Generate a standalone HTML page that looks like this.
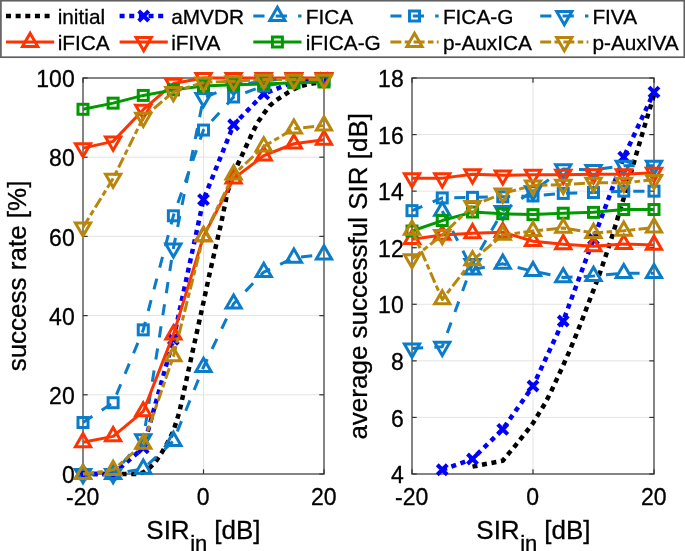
<!DOCTYPE html><html><head><meta charset="utf-8"><style>html,body{margin:0;padding:0;background:#fff;}svg{display:block;will-change:transform;}text{font-family:"Liberation Sans",sans-serif;fill:#000;stroke:#000;stroke-width:0.3px;}</style></head><body>
<svg width="685" height="551" viewBox="0 0 685 551">
<rect width="685" height="551" fill="#fff"/>
<line x1="83" x2="324" y1="474.0" y2="474.0" stroke="#e3e3e3" stroke-width="1"/>
<line x1="83" x2="324" y1="394.8" y2="394.8" stroke="#e3e3e3" stroke-width="1"/>
<line x1="83" x2="324" y1="315.6" y2="315.6" stroke="#e3e3e3" stroke-width="1"/>
<line x1="83" x2="324" y1="236.4" y2="236.4" stroke="#e3e3e3" stroke-width="1"/>
<line x1="83" x2="324" y1="157.2" y2="157.2" stroke="#e3e3e3" stroke-width="1"/>
<line x1="83" x2="324" y1="78.0" y2="78.0" stroke="#e3e3e3" stroke-width="1"/>
<line x1="83.0" x2="83.0" y1="78" y2="474" stroke="#e3e3e3" stroke-width="1"/>
<line x1="203.5" x2="203.5" y1="78" y2="474" stroke="#e3e3e3" stroke-width="1"/>
<line x1="324.0" x2="324.0" y1="78" y2="474" stroke="#e3e3e3" stroke-width="1"/>

<rect x="83" y="78" width="241" height="396" fill="none" stroke="#606060" stroke-width="1.5"/>
<line x1="83" x2="87.7" y1="474.0" y2="474.0" stroke="#333333" stroke-width="1.2"/><line x1="324" x2="319.3" y1="474.0" y2="474.0" stroke="#333333" stroke-width="1.2"/>
<line x1="83" x2="87.7" y1="394.8" y2="394.8" stroke="#333333" stroke-width="1.2"/><line x1="324" x2="319.3" y1="394.8" y2="394.8" stroke="#333333" stroke-width="1.2"/>
<line x1="83" x2="87.7" y1="315.6" y2="315.6" stroke="#333333" stroke-width="1.2"/><line x1="324" x2="319.3" y1="315.6" y2="315.6" stroke="#333333" stroke-width="1.2"/>
<line x1="83" x2="87.7" y1="236.4" y2="236.4" stroke="#333333" stroke-width="1.2"/><line x1="324" x2="319.3" y1="236.4" y2="236.4" stroke="#333333" stroke-width="1.2"/>
<line x1="83" x2="87.7" y1="157.2" y2="157.2" stroke="#333333" stroke-width="1.2"/><line x1="324" x2="319.3" y1="157.2" y2="157.2" stroke="#333333" stroke-width="1.2"/>
<line x1="83" x2="87.7" y1="78.0" y2="78.0" stroke="#333333" stroke-width="1.2"/><line x1="324" x2="319.3" y1="78.0" y2="78.0" stroke="#333333" stroke-width="1.2"/>
<line x1="83.0" x2="83.0" y1="474" y2="469.3" stroke="#333333" stroke-width="1.2"/><line x1="83.0" x2="83.0" y1="78" y2="82.7" stroke="#333333" stroke-width="1.2"/>
<line x1="203.5" x2="203.5" y1="474" y2="469.3" stroke="#333333" stroke-width="1.2"/><line x1="203.5" x2="203.5" y1="78" y2="82.7" stroke="#333333" stroke-width="1.2"/>
<line x1="324.0" x2="324.0" y1="474" y2="469.3" stroke="#333333" stroke-width="1.2"/><line x1="324.0" x2="324.0" y1="78" y2="82.7" stroke="#333333" stroke-width="1.2"/>
<text x="74.7" y="483.2" text-anchor="end" font-size="23">0</text>
<text x="74.7" y="404.0" text-anchor="end" font-size="23">20</text>
<text x="74.7" y="324.8" text-anchor="end" font-size="23">40</text>
<text x="74.7" y="245.6" text-anchor="end" font-size="23">60</text>
<text x="74.7" y="166.39999999999998" text-anchor="end" font-size="23">80</text>
<text x="74.7" y="87.2" text-anchor="end" font-size="23">100</text>
<text x="82.7" y="504.5" text-anchor="middle" font-size="23">-20</text>
<text x="203.2" y="504.5" text-anchor="middle" font-size="23">0</text>
<text x="323.7" y="504.5" text-anchor="middle" font-size="23">20</text>

<path d="M83.00,474.00L113.12,474.00L137.22,474.00L143.25,472.42L149.28,468.06L155.30,462.12L161.32,453.41L167.35,443.11L173.38,431.23L179.40,411.83L185.43,384.50L191.45,356.78L197.47,329.46L203.50,302.14L209.53,274.02L215.55,247.49L221.57,221.35L227.60,191.65L233.62,173.04L239.65,160.37L245.68,147.30L251.70,134.23L257.73,122.35L263.75,113.64L269.77,105.72L275.80,100.57L281.82,96.61L287.85,92.65L293.88,89.09L299.90,86.32L305.93,84.73L311.95,83.54L317.98,82.75L324.00,81.96" fill="none" stroke="#000000" stroke-width="4.5" stroke-dasharray="5 4.65" stroke-linejoin="round"/>


<path d="M83.00,474.00L113.12,474.00L143.25,447.86L173.38,339.36L203.50,199.57L233.62,124.73L263.75,93.84L293.88,81.96L324.00,78.00" fill="none" stroke="#0000ff" stroke-width="4.5" stroke-dasharray="5 4.65" stroke-linejoin="round"/>
<path d="M78.00,469.00L88.00,479.00M78.00,479.00L88.00,469.00" stroke="#0000ff" stroke-width="4.0"/><path d="M108.12,469.00L118.12,479.00M108.12,479.00L118.12,469.00" stroke="#0000ff" stroke-width="4.0"/><path d="M138.25,442.86L148.25,452.86M138.25,452.86L148.25,442.86" stroke="#0000ff" stroke-width="4.0"/><path d="M168.38,334.36L178.38,344.36M168.38,344.36L178.38,334.36" stroke="#0000ff" stroke-width="4.0"/><path d="M198.50,194.57L208.50,204.57M198.50,204.57L208.50,194.57" stroke="#0000ff" stroke-width="4.0"/><path d="M228.62,119.73L238.62,129.73M228.62,129.73L238.62,119.73" stroke="#0000ff" stroke-width="4.0"/><path d="M258.75,88.84L268.75,98.84M258.75,98.84L268.75,88.84" stroke="#0000ff" stroke-width="4.0"/><path d="M288.88,76.96L298.88,86.96M288.88,86.96L298.88,76.96" stroke="#0000ff" stroke-width="4.0"/><path d="M319.00,73.00L329.00,83.00M319.00,83.00L329.00,73.00" stroke="#0000ff" stroke-width="4.0"/>

<path d="M83.00,474.00L113.12,474.00L143.25,468.85L173.38,441.13L203.50,367.08L233.62,303.72L263.75,272.04L293.88,257.78L324.00,254.62" fill="none" stroke="#0a7cc9" stroke-width="3.0" stroke-dasharray="11.2 11.2" stroke-linejoin="round"/>
<path d="M83.00,465.22L90.60,478.39L75.40,478.39Z" fill="none" stroke="#0a7cc9" stroke-width="3.0"/><path d="M113.12,465.22L120.72,478.39L105.53,478.39Z" fill="none" stroke="#0a7cc9" stroke-width="3.0"/><path d="M143.25,460.08L150.85,473.24L135.65,473.24Z" fill="none" stroke="#0a7cc9" stroke-width="3.0"/><path d="M173.38,432.36L180.97,445.52L165.78,445.52Z" fill="none" stroke="#0a7cc9" stroke-width="3.0"/><path d="M203.50,358.30L211.10,371.47L195.90,371.47Z" fill="none" stroke="#0a7cc9" stroke-width="3.0"/><path d="M233.62,294.94L241.22,308.11L226.03,308.11Z" fill="none" stroke="#0a7cc9" stroke-width="3.0"/><path d="M263.75,263.26L271.35,276.43L256.15,276.43Z" fill="none" stroke="#0a7cc9" stroke-width="3.0"/><path d="M293.88,249.01L301.48,262.17L286.27,262.17Z" fill="none" stroke="#0a7cc9" stroke-width="3.0"/><path d="M324.00,245.84L331.60,259.00L316.40,259.00Z" fill="none" stroke="#0a7cc9" stroke-width="3.0"/>

<path d="M83.00,422.52L113.12,402.72L143.25,329.86L173.38,215.81L203.50,130.07L233.62,97.01L263.75,85.92L293.88,81.96L324.00,79.98" fill="none" stroke="#0a7cc9" stroke-width="3.0" stroke-dasharray="11.2 11.2" stroke-linejoin="round"/>
<rect x="78.00" y="417.52" width="10.0" height="10.0" fill="none" stroke="#0a7cc9" stroke-width="3.0"/><rect x="108.12" y="397.72" width="10.0" height="10.0" fill="none" stroke="#0a7cc9" stroke-width="3.0"/><rect x="138.25" y="324.86" width="10.0" height="10.0" fill="none" stroke="#0a7cc9" stroke-width="3.0"/><rect x="168.38" y="210.81" width="10.0" height="10.0" fill="none" stroke="#0a7cc9" stroke-width="3.0"/><rect x="198.50" y="125.07" width="10.0" height="10.0" fill="none" stroke="#0a7cc9" stroke-width="3.0"/><rect x="228.62" y="92.01" width="10.0" height="10.0" fill="none" stroke="#0a7cc9" stroke-width="3.0"/><rect x="258.75" y="80.92" width="10.0" height="10.0" fill="none" stroke="#0a7cc9" stroke-width="3.0"/><rect x="288.88" y="76.96" width="10.0" height="10.0" fill="none" stroke="#0a7cc9" stroke-width="3.0"/><rect x="319.00" y="74.98" width="10.0" height="10.0" fill="none" stroke="#0a7cc9" stroke-width="3.0"/>

<path d="M83.00,474.00L113.12,474.00L143.25,439.15L173.38,248.28L203.50,97.80L233.62,85.92L263.75,80.77L293.88,78.00L324.00,78.00" fill="none" stroke="#0a7cc9" stroke-width="3.0" stroke-dasharray="11.2 11.2" stroke-linejoin="round"/>
<path d="M83.00,482.78L90.60,469.61L75.40,469.61Z" fill="none" stroke="#0a7cc9" stroke-width="3.0"/><path d="M113.12,482.78L120.72,469.61L105.53,469.61Z" fill="none" stroke="#0a7cc9" stroke-width="3.0"/><path d="M143.25,447.93L150.85,434.76L135.65,434.76Z" fill="none" stroke="#0a7cc9" stroke-width="3.0"/><path d="M173.38,257.06L180.97,243.89L165.78,243.89Z" fill="none" stroke="#0a7cc9" stroke-width="3.0"/><path d="M203.50,106.58L211.10,93.41L195.90,93.41Z" fill="none" stroke="#0a7cc9" stroke-width="3.0"/><path d="M233.62,94.70L241.22,81.53L226.03,81.53Z" fill="none" stroke="#0a7cc9" stroke-width="3.0"/><path d="M263.75,89.55L271.35,76.38L256.15,76.38Z" fill="none" stroke="#0a7cc9" stroke-width="3.0"/><path d="M293.88,86.78L301.48,73.61L286.27,73.61Z" fill="none" stroke="#0a7cc9" stroke-width="3.0"/><path d="M324.00,86.78L331.60,73.61L316.40,73.61Z" fill="none" stroke="#0a7cc9" stroke-width="3.0"/>

<path d="M83.00,442.32L113.12,436.38L143.25,411.43L173.38,334.61L203.50,236.40L233.62,178.58L263.75,155.62L293.88,143.74L324.00,139.78" fill="none" stroke="#ff3300" stroke-width="3.0"  stroke-linejoin="round"/>
<path d="M83.00,433.54L90.60,446.71L75.40,446.71Z" fill="none" stroke="#ff3300" stroke-width="3.0"/><path d="M113.12,427.60L120.72,440.77L105.53,440.77Z" fill="none" stroke="#ff3300" stroke-width="3.0"/><path d="M143.25,402.66L150.85,415.82L135.65,415.82Z" fill="none" stroke="#ff3300" stroke-width="3.0"/><path d="M173.38,325.83L180.97,339.00L165.78,339.00Z" fill="none" stroke="#ff3300" stroke-width="3.0"/><path d="M203.50,227.62L211.10,240.79L195.90,240.79Z" fill="none" stroke="#ff3300" stroke-width="3.0"/><path d="M233.62,169.81L241.22,182.97L226.03,182.97Z" fill="none" stroke="#ff3300" stroke-width="3.0"/><path d="M263.75,146.84L271.35,160.00L256.15,160.00Z" fill="none" stroke="#ff3300" stroke-width="3.0"/><path d="M293.88,134.96L301.48,148.12L286.27,148.12Z" fill="none" stroke="#ff3300" stroke-width="3.0"/><path d="M324.00,131.00L331.60,144.16L316.40,144.16Z" fill="none" stroke="#ff3300" stroke-width="3.0"/>

<path d="M83.00,148.09L113.12,141.36L143.25,109.68L173.38,83.54L203.50,78.00L233.62,78.00L263.75,78.00L293.88,78.00L324.00,78.00" fill="none" stroke="#ff3300" stroke-width="3.0"  stroke-linejoin="round"/>
<path d="M83.00,156.87L90.60,143.70L75.40,143.70Z" fill="none" stroke="#ff3300" stroke-width="3.0"/><path d="M113.12,150.14L120.72,136.97L105.53,136.97Z" fill="none" stroke="#ff3300" stroke-width="3.0"/><path d="M143.25,118.46L150.85,105.29L135.65,105.29Z" fill="none" stroke="#ff3300" stroke-width="3.0"/><path d="M173.38,92.32L180.97,79.16L165.78,79.16Z" fill="none" stroke="#ff3300" stroke-width="3.0"/><path d="M203.50,86.78L211.10,73.61L195.90,73.61Z" fill="none" stroke="#ff3300" stroke-width="3.0"/><path d="M233.62,86.78L241.22,73.61L226.03,73.61Z" fill="none" stroke="#ff3300" stroke-width="3.0"/><path d="M263.75,86.78L271.35,73.61L256.15,73.61Z" fill="none" stroke="#ff3300" stroke-width="3.0"/><path d="M293.88,86.78L301.48,73.61L286.27,73.61Z" fill="none" stroke="#ff3300" stroke-width="3.0"/><path d="M324.00,86.78L331.60,73.61L316.40,73.61Z" fill="none" stroke="#ff3300" stroke-width="3.0"/>

<path d="M83.00,109.28L113.12,103.15L143.25,95.42L173.38,89.88L203.50,85.92L233.62,84.73L263.75,83.94L293.88,82.75L324.00,81.96" fill="none" stroke="#009900" stroke-width="3.0"  stroke-linejoin="round"/>
<rect x="78.00" y="104.28" width="10.0" height="10.0" fill="none" stroke="#009900" stroke-width="3.0"/><rect x="108.12" y="98.15" width="10.0" height="10.0" fill="none" stroke="#009900" stroke-width="3.0"/><rect x="138.25" y="90.42" width="10.0" height="10.0" fill="none" stroke="#009900" stroke-width="3.0"/><rect x="168.38" y="84.88" width="10.0" height="10.0" fill="none" stroke="#009900" stroke-width="3.0"/><rect x="198.50" y="80.92" width="10.0" height="10.0" fill="none" stroke="#009900" stroke-width="3.0"/><rect x="228.62" y="79.73" width="10.0" height="10.0" fill="none" stroke="#009900" stroke-width="3.0"/><rect x="258.75" y="78.94" width="10.0" height="10.0" fill="none" stroke="#009900" stroke-width="3.0"/><rect x="288.88" y="77.75" width="10.0" height="10.0" fill="none" stroke="#009900" stroke-width="3.0"/><rect x="319.00" y="76.96" width="10.0" height="10.0" fill="none" stroke="#009900" stroke-width="3.0"/>

<path d="M83.00,474.00L113.12,470.04L143.25,443.90L173.38,356.39L203.50,236.40L233.62,174.62L263.75,146.51L293.88,128.69L324.00,125.52" fill="none" stroke="#b8860b" stroke-width="3.0" stroke-dasharray="11 3.3 5.6 3.3" stroke-linejoin="round"/>
<path d="M83.00,465.22L90.60,478.39L75.40,478.39Z" fill="none" stroke="#b8860b" stroke-width="3.0"/><path d="M113.12,461.26L120.72,474.43L105.53,474.43Z" fill="none" stroke="#b8860b" stroke-width="3.0"/><path d="M143.25,435.13L150.85,448.29L135.65,448.29Z" fill="none" stroke="#b8860b" stroke-width="3.0"/><path d="M173.38,347.61L180.97,360.78L165.78,360.78Z" fill="none" stroke="#b8860b" stroke-width="3.0"/><path d="M203.50,227.62L211.10,240.79L195.90,240.79Z" fill="none" stroke="#b8860b" stroke-width="3.0"/><path d="M233.62,165.85L241.22,179.01L226.03,179.01Z" fill="none" stroke="#b8860b" stroke-width="3.0"/><path d="M263.75,137.73L271.35,150.90L256.15,150.90Z" fill="none" stroke="#b8860b" stroke-width="3.0"/><path d="M293.88,119.91L301.48,133.08L286.27,133.08Z" fill="none" stroke="#b8860b" stroke-width="3.0"/><path d="M324.00,116.74L331.60,129.91L316.40,129.91Z" fill="none" stroke="#b8860b" stroke-width="3.0"/>

<path d="M83.00,227.29L113.12,178.58L143.25,117.60L173.38,91.86L203.50,82.36L233.62,81.17L263.75,79.58L293.88,79.58L324.00,79.58" fill="none" stroke="#b8860b" stroke-width="3.0" stroke-dasharray="11 3.3 5.6 3.3" stroke-linejoin="round"/>
<path d="M83.00,236.07L90.60,222.90L75.40,222.90Z" fill="none" stroke="#b8860b" stroke-width="3.0"/><path d="M113.12,187.36L120.72,174.20L105.53,174.20Z" fill="none" stroke="#b8860b" stroke-width="3.0"/><path d="M143.25,126.38L150.85,113.21L135.65,113.21Z" fill="none" stroke="#b8860b" stroke-width="3.0"/><path d="M173.38,100.64L180.97,87.47L165.78,87.47Z" fill="none" stroke="#b8860b" stroke-width="3.0"/><path d="M203.50,91.13L211.10,77.97L195.90,77.97Z" fill="none" stroke="#b8860b" stroke-width="3.0"/><path d="M233.62,89.94L241.22,76.78L226.03,76.78Z" fill="none" stroke="#b8860b" stroke-width="3.0"/><path d="M263.75,88.36L271.35,75.20L256.15,75.20Z" fill="none" stroke="#b8860b" stroke-width="3.0"/><path d="M293.88,88.36L301.48,75.20L286.27,75.20Z" fill="none" stroke="#b8860b" stroke-width="3.0"/><path d="M324.00,88.36L331.60,75.20L316.40,75.20Z" fill="none" stroke="#b8860b" stroke-width="3.0"/>

<line x1="412" x2="654" y1="474.0" y2="474.0" stroke="#e3e3e3" stroke-width="1"/>
<line x1="412" x2="654" y1="417.42857142857144" y2="417.42857142857144" stroke="#e3e3e3" stroke-width="1"/>
<line x1="412" x2="654" y1="360.8571428571429" y2="360.8571428571429" stroke="#e3e3e3" stroke-width="1"/>
<line x1="412" x2="654" y1="304.28571428571433" y2="304.28571428571433" stroke="#e3e3e3" stroke-width="1"/>
<line x1="412" x2="654" y1="247.71428571428572" y2="247.71428571428572" stroke="#e3e3e3" stroke-width="1"/>
<line x1="412" x2="654" y1="191.1428571428571" y2="191.1428571428571" stroke="#e3e3e3" stroke-width="1"/>
<line x1="412" x2="654" y1="134.5714285714286" y2="134.5714285714286" stroke="#e3e3e3" stroke-width="1"/>
<line x1="412" x2="654" y1="78.0" y2="78.0" stroke="#e3e3e3" stroke-width="1"/>
<line x1="412.0" x2="412.0" y1="78" y2="474" stroke="#e3e3e3" stroke-width="1"/>
<line x1="533.0" x2="533.0" y1="78" y2="474" stroke="#e3e3e3" stroke-width="1"/>
<line x1="654.0" x2="654.0" y1="78" y2="474" stroke="#e3e3e3" stroke-width="1"/>

<rect x="412" y="78" width="242" height="396" fill="none" stroke="#606060" stroke-width="1.5"/>
<line x1="412" x2="416.7" y1="474.0" y2="474.0" stroke="#333333" stroke-width="1.2"/><line x1="654" x2="649.3" y1="474.0" y2="474.0" stroke="#333333" stroke-width="1.2"/>
<line x1="412" x2="416.7" y1="417.42857142857144" y2="417.42857142857144" stroke="#333333" stroke-width="1.2"/><line x1="654" x2="649.3" y1="417.42857142857144" y2="417.42857142857144" stroke="#333333" stroke-width="1.2"/>
<line x1="412" x2="416.7" y1="360.8571428571429" y2="360.8571428571429" stroke="#333333" stroke-width="1.2"/><line x1="654" x2="649.3" y1="360.8571428571429" y2="360.8571428571429" stroke="#333333" stroke-width="1.2"/>
<line x1="412" x2="416.7" y1="304.28571428571433" y2="304.28571428571433" stroke="#333333" stroke-width="1.2"/><line x1="654" x2="649.3" y1="304.28571428571433" y2="304.28571428571433" stroke="#333333" stroke-width="1.2"/>
<line x1="412" x2="416.7" y1="247.71428571428572" y2="247.71428571428572" stroke="#333333" stroke-width="1.2"/><line x1="654" x2="649.3" y1="247.71428571428572" y2="247.71428571428572" stroke="#333333" stroke-width="1.2"/>
<line x1="412" x2="416.7" y1="191.1428571428571" y2="191.1428571428571" stroke="#333333" stroke-width="1.2"/><line x1="654" x2="649.3" y1="191.1428571428571" y2="191.1428571428571" stroke="#333333" stroke-width="1.2"/>
<line x1="412" x2="416.7" y1="134.5714285714286" y2="134.5714285714286" stroke="#333333" stroke-width="1.2"/><line x1="654" x2="649.3" y1="134.5714285714286" y2="134.5714285714286" stroke="#333333" stroke-width="1.2"/>
<line x1="412" x2="416.7" y1="78.0" y2="78.0" stroke="#333333" stroke-width="1.2"/><line x1="654" x2="649.3" y1="78.0" y2="78.0" stroke="#333333" stroke-width="1.2"/>
<line x1="412.0" x2="412.0" y1="474" y2="469.3" stroke="#333333" stroke-width="1.2"/><line x1="412.0" x2="412.0" y1="78" y2="82.7" stroke="#333333" stroke-width="1.2"/>
<line x1="533.0" x2="533.0" y1="474" y2="469.3" stroke="#333333" stroke-width="1.2"/><line x1="533.0" x2="533.0" y1="78" y2="82.7" stroke="#333333" stroke-width="1.2"/>
<line x1="654.0" x2="654.0" y1="474" y2="469.3" stroke="#333333" stroke-width="1.2"/><line x1="654.0" x2="654.0" y1="78" y2="82.7" stroke="#333333" stroke-width="1.2"/>
<text x="403.7" y="483.2" text-anchor="end" font-size="23">4</text>
<text x="403.7" y="426.62857142857143" text-anchor="end" font-size="23">6</text>
<text x="403.7" y="370.0571428571429" text-anchor="end" font-size="23">8</text>
<text x="403.7" y="313.4857142857143" text-anchor="end" font-size="23">10</text>
<text x="403.7" y="256.9142857142857" text-anchor="end" font-size="23">12</text>
<text x="403.7" y="200.3428571428571" text-anchor="end" font-size="23">14</text>
<text x="403.7" y="143.7714285714286" text-anchor="end" font-size="23">16</text>
<text x="403.7" y="87.2" text-anchor="end" font-size="23">18</text>
<text x="411.7" y="504.5" text-anchor="middle" font-size="23">-20</text>
<text x="532.7" y="504.5" text-anchor="middle" font-size="23">0</text>
<text x="653.7" y="504.5" text-anchor="middle" font-size="23">20</text>

<path d="M472.50,466.65L502.75,460.71L508.80,453.35L514.85,446.28L520.90,438.64L526.95,431.01L533.00,423.09L539.05,413.19L545.10,403.29L551.15,391.41L557.20,378.39L563.25,365.10L569.30,351.52L575.35,336.81L581.40,321.82L587.45,305.70L593.50,290.14L599.55,274.02L605.60,256.20L611.65,237.81L617.70,218.01L623.75,198.21L629.80,177.00L635.85,155.79L641.90,135.14L647.95,114.77L654.00,94.97" fill="none" stroke="#000000" stroke-width="4.5" stroke-dasharray="5 4.65" stroke-linejoin="round"/>


<path d="M442.25,469.76L472.50,459.01L502.75,429.31L533.00,386.03L563.25,320.97L593.50,239.23L623.75,157.20L654.00,92.14" fill="none" stroke="#0000ff" stroke-width="4.5" stroke-dasharray="5 4.65" stroke-linejoin="round"/>
<path d="M437.25,464.76L447.25,474.76M437.25,474.76L447.25,464.76" stroke="#0000ff" stroke-width="4.0"/><path d="M467.50,454.01L477.50,464.01M467.50,464.01L477.50,454.01" stroke="#0000ff" stroke-width="4.0"/><path d="M497.75,424.31L507.75,434.31M497.75,434.31L507.75,424.31" stroke="#0000ff" stroke-width="4.0"/><path d="M528.00,381.03L538.00,391.03M528.00,391.03L538.00,381.03" stroke="#0000ff" stroke-width="4.0"/><path d="M558.25,315.97L568.25,325.97M558.25,325.97L568.25,315.97" stroke="#0000ff" stroke-width="4.0"/><path d="M588.50,234.23L598.50,244.23M588.50,244.23L598.50,234.23" stroke="#0000ff" stroke-width="4.0"/><path d="M618.75,152.20L628.75,162.20M618.75,162.20L628.75,152.20" stroke="#0000ff" stroke-width="4.0"/><path d="M649.00,87.14L659.00,97.14M649.00,97.14L659.00,87.14" stroke="#0000ff" stroke-width="4.0"/>

<path d="M442.25,210.94L472.50,269.49L502.75,263.84L533.00,271.19L563.25,277.41L593.50,276.00L623.75,273.17L654.00,273.17" fill="none" stroke="#0a7cc9" stroke-width="3.0" stroke-dasharray="11.2 11.2" stroke-linejoin="round"/>
<path d="M442.25,202.17L449.85,215.33L434.65,215.33Z" fill="none" stroke="#0a7cc9" stroke-width="3.0"/><path d="M472.50,260.72L480.10,273.88L464.90,273.88Z" fill="none" stroke="#0a7cc9" stroke-width="3.0"/><path d="M502.75,255.06L510.35,268.23L495.15,268.23Z" fill="none" stroke="#0a7cc9" stroke-width="3.0"/><path d="M533.00,262.42L540.60,275.58L525.40,275.58Z" fill="none" stroke="#0a7cc9" stroke-width="3.0"/><path d="M563.25,268.64L570.85,281.80L555.65,281.80Z" fill="none" stroke="#0a7cc9" stroke-width="3.0"/><path d="M593.50,267.22L601.10,280.39L585.90,280.39Z" fill="none" stroke="#0a7cc9" stroke-width="3.0"/><path d="M623.75,264.40L631.35,277.56L616.15,277.56Z" fill="none" stroke="#0a7cc9" stroke-width="3.0"/><path d="M654.00,264.40L661.60,277.56L646.40,277.56Z" fill="none" stroke="#0a7cc9" stroke-width="3.0"/>

<path d="M412.00,210.66L442.25,197.93L472.50,197.37L502.75,196.80L533.00,195.95L563.25,193.41L593.50,192.56L623.75,191.14L654.00,191.14" fill="none" stroke="#0a7cc9" stroke-width="3.0" stroke-dasharray="11.2 11.2" stroke-linejoin="round"/>
<rect x="407.00" y="205.66" width="10.0" height="10.0" fill="none" stroke="#0a7cc9" stroke-width="3.0"/><rect x="437.25" y="192.93" width="10.0" height="10.0" fill="none" stroke="#0a7cc9" stroke-width="3.0"/><rect x="467.50" y="192.37" width="10.0" height="10.0" fill="none" stroke="#0a7cc9" stroke-width="3.0"/><rect x="497.75" y="191.80" width="10.0" height="10.0" fill="none" stroke="#0a7cc9" stroke-width="3.0"/><rect x="528.00" y="190.95" width="10.0" height="10.0" fill="none" stroke="#0a7cc9" stroke-width="3.0"/><rect x="558.25" y="188.41" width="10.0" height="10.0" fill="none" stroke="#0a7cc9" stroke-width="3.0"/><rect x="588.50" y="187.56" width="10.0" height="10.0" fill="none" stroke="#0a7cc9" stroke-width="3.0"/><rect x="618.75" y="186.14" width="10.0" height="10.0" fill="none" stroke="#0a7cc9" stroke-width="3.0"/><rect x="649.00" y="186.14" width="10.0" height="10.0" fill="none" stroke="#0a7cc9" stroke-width="3.0"/>

<path d="M412.00,348.41L442.25,346.71L472.50,263.84L502.75,210.94L533.00,191.14L563.25,169.08L593.50,169.93L623.75,165.69L654.00,165.69" fill="none" stroke="#0a7cc9" stroke-width="3.0" stroke-dasharray="11.2 11.2" stroke-linejoin="round"/>
<path d="M412.00,357.19L419.60,344.02L404.40,344.02Z" fill="none" stroke="#0a7cc9" stroke-width="3.0"/><path d="M442.25,355.49L449.85,342.33L434.65,342.33Z" fill="none" stroke="#0a7cc9" stroke-width="3.0"/><path d="M472.50,272.61L480.10,259.45L464.90,259.45Z" fill="none" stroke="#0a7cc9" stroke-width="3.0"/><path d="M502.75,219.72L510.35,206.55L495.15,206.55Z" fill="none" stroke="#0a7cc9" stroke-width="3.0"/><path d="M533.00,199.92L540.60,186.75L525.40,186.75Z" fill="none" stroke="#0a7cc9" stroke-width="3.0"/><path d="M563.25,177.86L570.85,164.69L555.65,164.69Z" fill="none" stroke="#0a7cc9" stroke-width="3.0"/><path d="M593.50,178.70L601.10,165.54L585.90,165.54Z" fill="none" stroke="#0a7cc9" stroke-width="3.0"/><path d="M623.75,174.46L631.35,161.30L616.15,161.30Z" fill="none" stroke="#0a7cc9" stroke-width="3.0"/><path d="M654.00,174.46L661.60,161.30L646.40,161.30Z" fill="none" stroke="#0a7cc9" stroke-width="3.0"/>

<path d="M412.00,239.23L442.25,234.99L472.50,233.29L502.75,232.16L533.00,241.21L563.25,244.32L593.50,246.30L623.75,244.04L654.00,244.89" fill="none" stroke="#ff3300" stroke-width="3.0"  stroke-linejoin="round"/>
<path d="M412.00,230.45L419.60,243.62L404.40,243.62Z" fill="none" stroke="#ff3300" stroke-width="3.0"/><path d="M442.25,226.21L449.85,239.37L434.65,239.37Z" fill="none" stroke="#ff3300" stroke-width="3.0"/><path d="M472.50,224.51L480.10,237.68L464.90,237.68Z" fill="none" stroke="#ff3300" stroke-width="3.0"/><path d="M502.75,223.38L510.35,236.55L495.15,236.55Z" fill="none" stroke="#ff3300" stroke-width="3.0"/><path d="M533.00,232.43L540.60,245.60L525.40,245.60Z" fill="none" stroke="#ff3300" stroke-width="3.0"/><path d="M563.25,235.54L570.85,248.71L555.65,248.71Z" fill="none" stroke="#ff3300" stroke-width="3.0"/><path d="M593.50,237.52L601.10,250.69L585.90,250.69Z" fill="none" stroke="#ff3300" stroke-width="3.0"/><path d="M623.75,235.26L631.35,248.43L616.15,248.43Z" fill="none" stroke="#ff3300" stroke-width="3.0"/><path d="M654.00,236.11L661.60,249.27L646.40,249.27Z" fill="none" stroke="#ff3300" stroke-width="3.0"/>

<path d="M412.00,178.13L442.25,178.13L472.50,174.17L502.75,175.30L533.00,174.74L563.25,174.74L593.50,174.17L623.75,174.17L654.00,172.76" fill="none" stroke="#ff3300" stroke-width="3.0"  stroke-linejoin="round"/>
<path d="M412.00,186.91L419.60,173.74L404.40,173.74Z" fill="none" stroke="#ff3300" stroke-width="3.0"/><path d="M442.25,186.91L449.85,173.74L434.65,173.74Z" fill="none" stroke="#ff3300" stroke-width="3.0"/><path d="M472.50,182.95L480.10,169.78L464.90,169.78Z" fill="none" stroke="#ff3300" stroke-width="3.0"/><path d="M502.75,184.08L510.35,170.91L495.15,170.91Z" fill="none" stroke="#ff3300" stroke-width="3.0"/><path d="M533.00,183.51L540.60,170.35L525.40,170.35Z" fill="none" stroke="#ff3300" stroke-width="3.0"/><path d="M563.25,183.51L570.85,170.35L555.65,170.35Z" fill="none" stroke="#ff3300" stroke-width="3.0"/><path d="M593.50,182.95L601.10,169.78L585.90,169.78Z" fill="none" stroke="#ff3300" stroke-width="3.0"/><path d="M623.75,182.95L631.35,169.78L616.15,169.78Z" fill="none" stroke="#ff3300" stroke-width="3.0"/><path d="M654.00,181.53L661.60,168.37L646.40,168.37Z" fill="none" stroke="#ff3300" stroke-width="3.0"/>

<path d="M412.00,231.03L442.25,220.56L472.50,212.07L502.75,213.77L533.00,214.62L563.25,213.21L593.50,212.36L623.75,209.53L654.00,209.53" fill="none" stroke="#009900" stroke-width="3.0"  stroke-linejoin="round"/>
<rect x="407.00" y="226.03" width="10.0" height="10.0" fill="none" stroke="#009900" stroke-width="3.0"/><rect x="437.25" y="215.56" width="10.0" height="10.0" fill="none" stroke="#009900" stroke-width="3.0"/><rect x="467.50" y="207.07" width="10.0" height="10.0" fill="none" stroke="#009900" stroke-width="3.0"/><rect x="497.75" y="208.77" width="10.0" height="10.0" fill="none" stroke="#009900" stroke-width="3.0"/><rect x="528.00" y="209.62" width="10.0" height="10.0" fill="none" stroke="#009900" stroke-width="3.0"/><rect x="558.25" y="208.21" width="10.0" height="10.0" fill="none" stroke="#009900" stroke-width="3.0"/><rect x="588.50" y="207.36" width="10.0" height="10.0" fill="none" stroke="#009900" stroke-width="3.0"/><rect x="618.75" y="204.53" width="10.0" height="10.0" fill="none" stroke="#009900" stroke-width="3.0"/><rect x="649.00" y="204.53" width="10.0" height="10.0" fill="none" stroke="#009900" stroke-width="3.0"/>

<path d="M412.00,229.89L442.25,299.48L472.50,260.44L502.75,234.99L533.00,231.03L563.25,227.91L593.50,233.01L623.75,230.74L654.00,227.63" fill="none" stroke="#b8860b" stroke-width="3.0" stroke-dasharray="11 3.3 5.6 3.3" stroke-linejoin="round"/>
<path d="M412.00,221.12L419.60,234.28L404.40,234.28Z" fill="none" stroke="#b8860b" stroke-width="3.0"/><path d="M442.25,290.70L449.85,303.87L434.65,303.87Z" fill="none" stroke="#b8860b" stroke-width="3.0"/><path d="M472.50,251.67L480.10,264.83L464.90,264.83Z" fill="none" stroke="#b8860b" stroke-width="3.0"/><path d="M502.75,226.21L510.35,239.37L495.15,239.37Z" fill="none" stroke="#b8860b" stroke-width="3.0"/><path d="M533.00,222.25L540.60,235.41L525.40,235.41Z" fill="none" stroke="#b8860b" stroke-width="3.0"/><path d="M563.25,219.14L570.85,232.30L555.65,232.30Z" fill="none" stroke="#b8860b" stroke-width="3.0"/><path d="M593.50,224.23L601.10,237.39L585.90,237.39Z" fill="none" stroke="#b8860b" stroke-width="3.0"/><path d="M623.75,221.97L631.35,235.13L616.15,235.13Z" fill="none" stroke="#b8860b" stroke-width="3.0"/><path d="M654.00,218.86L661.60,232.02L646.40,232.02Z" fill="none" stroke="#b8860b" stroke-width="3.0"/>

<path d="M412.00,259.03L442.25,234.99L472.50,205.85L502.75,193.41L533.00,185.49L563.25,184.64L593.50,182.66L623.75,182.66L654.00,179.83" fill="none" stroke="#b8860b" stroke-width="3.0" stroke-dasharray="11 3.3 5.6 3.3" stroke-linejoin="round"/>
<path d="M412.00,267.80L419.60,254.64L404.40,254.64Z" fill="none" stroke="#b8860b" stroke-width="3.0"/><path d="M442.25,243.76L449.85,230.60L434.65,230.60Z" fill="none" stroke="#b8860b" stroke-width="3.0"/><path d="M472.50,214.63L480.10,201.46L464.90,201.46Z" fill="none" stroke="#b8860b" stroke-width="3.0"/><path d="M502.75,202.18L510.35,189.02L495.15,189.02Z" fill="none" stroke="#b8860b" stroke-width="3.0"/><path d="M533.00,194.26L540.60,181.10L525.40,181.10Z" fill="none" stroke="#b8860b" stroke-width="3.0"/><path d="M563.25,193.41L570.85,180.25L555.65,180.25Z" fill="none" stroke="#b8860b" stroke-width="3.0"/><path d="M593.50,191.43L601.10,178.27L585.90,178.27Z" fill="none" stroke="#b8860b" stroke-width="3.0"/><path d="M623.75,191.43L631.35,178.27L616.15,178.27Z" fill="none" stroke="#b8860b" stroke-width="3.0"/><path d="M654.00,188.60L661.60,175.44L646.40,175.44Z" fill="none" stroke="#b8860b" stroke-width="3.0"/>

<text x="146.3" y="538.5" font-size="26">SIR</text>
<text x="190.2" y="550.5" font-size="22">in</text>
<text x="214.3" y="538.5" font-size="26">[dB]</text>
<text x="476.3" y="538.5" font-size="26">SIR</text>
<text x="520.2" y="550.5" font-size="22">in</text>
<text x="544.3" y="538.5" font-size="26">[dB]</text>
<text transform="translate(26,276) rotate(-90)" text-anchor="middle" font-size="26">success rate [%]</text>
<text transform="translate(367,276.3) rotate(-90)" text-anchor="middle" font-size="26">average successful SIR [dB]</text>
<rect x="0.9" y="0.7" width="683.4" height="56.5" fill="#fff" stroke="#606060" stroke-width="1.7"/>
<path d="M6,16H54.2" stroke="#000000" stroke-width="4.5" stroke-dasharray="5 4.65"/>

<text x="57.7" y="24.0" font-size="20.8">initial</text>
<path d="M119.6,16H167.8" stroke="#0000ff" stroke-width="4.5" stroke-dasharray="5 4.65"/>
<path d="M138.70,11.00L148.70,21.00M138.70,21.00L148.70,11.00" stroke="#0000ff" stroke-width="4.0"/>
<text x="171.2" y="24.0" font-size="20.8">aMVDR</text>
<path d="M253.3,16H301.5" stroke="#0a7cc9" stroke-width="3.0" stroke-dasharray="11.2 11.2"/>
<path d="M277.40,7.22L285.00,20.39L269.80,20.39Z" fill="none" stroke="#0a7cc9" stroke-width="3.0"/>
<text x="305.7" y="24.0" font-size="20.8">FICA</text>
<path d="M390.4,16H438.59999999999997" stroke="#0a7cc9" stroke-width="3.0" stroke-dasharray="11.2 11.2"/>
<rect x="409.50" y="11.00" width="10.0" height="10.0" fill="none" stroke="#0a7cc9" stroke-width="3.0"/>
<text x="442.9" y="24.0" font-size="20.8">FICA-G</text>
<path d="M540.2,16H588.4000000000001" stroke="#0a7cc9" stroke-width="3.0" stroke-dasharray="11.2 11.2"/>
<path d="M564.30,24.78L571.90,11.61L556.70,11.61Z" fill="none" stroke="#0a7cc9" stroke-width="3.0"/>
<text x="592.4" y="24.0" font-size="20.8">FIVA</text>
<path d="M6,42H54.2" stroke="#ff3300" stroke-width="3.0" />
<path d="M30.10,33.22L37.70,46.39L22.50,46.39Z" fill="none" stroke="#ff3300" stroke-width="3.0"/>
<text x="57.7" y="50.0" font-size="20.8">iFICA</text>
<path d="M119.6,42H167.8" stroke="#ff3300" stroke-width="3.0" />
<path d="M143.70,50.78L151.30,37.61L136.10,37.61Z" fill="none" stroke="#ff3300" stroke-width="3.0"/>
<text x="171.2" y="50.0" font-size="20.8">iFIVA</text>
<path d="M253.3,42H301.5" stroke="#009900" stroke-width="3.0" />
<rect x="272.40" y="37.00" width="10.0" height="10.0" fill="none" stroke="#009900" stroke-width="3.0"/>
<text x="305.7" y="50.0" font-size="20.8">iFICA-G</text>
<path d="M390.4,42H438.59999999999997" stroke="#b8860b" stroke-width="3.0" stroke-dasharray="11 3.3 5.6 3.3"/>
<path d="M414.50,33.22L422.10,46.39L406.90,46.39Z" fill="none" stroke="#b8860b" stroke-width="3.0"/>
<text x="442.9" y="50.0" font-size="20.8">p-AuxICA</text>
<path d="M540.2,42H588.4000000000001" stroke="#b8860b" stroke-width="3.0" stroke-dasharray="11 3.3 5.6 3.3"/>
<path d="M564.30,50.78L571.90,37.61L556.70,37.61Z" fill="none" stroke="#b8860b" stroke-width="3.0"/>
<text x="592.4" y="50.0" font-size="20.8">p-AuxIVA</text>
</svg></body></html>
